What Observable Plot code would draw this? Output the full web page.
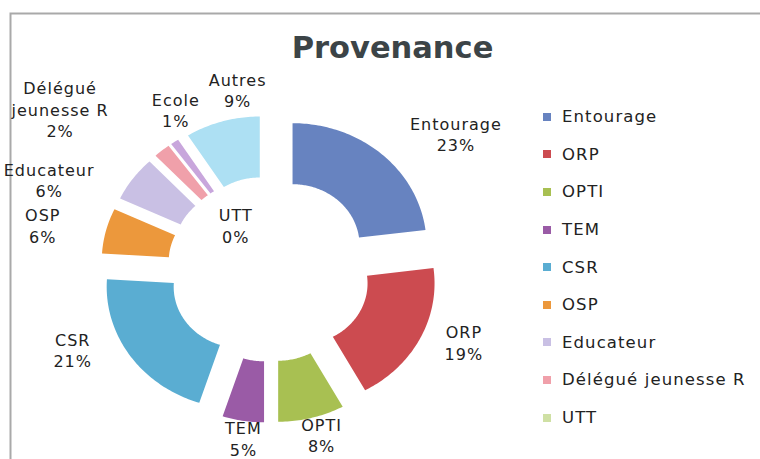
<!DOCTYPE html>
<html>
<head>
<meta charset="utf-8">
<script src="https://cdn.jsdelivr.net/npm/d3@7"></script>
<script src="https://cdn.jsdelivr.net/npm/@observablehq/plot@0.6"></script>
<style>
  html, body { margin: 0; padding: 0; background: #fff; }
  #wrap { position: relative; width: 760px; height: 459px; overflow: hidden; }
  #legend { position: absolute; left: 543px; top: 98px; width: 217px; }
  .lg-swatch { height: 37.6px; padding-bottom: 0 !important; }
  .lg-swatch svg { margin-right: 11px !important; }
  .lg-swatch-label { overflow: visible !important; letter-spacing: 1.1px; }
  g[font-size="16"] text { letter-spacing: 1px; }
</style>
</head>
<body>
<div id="wrap"><div id="chart"></div><div id="legend"></div></div>
<script>
// ---- data ----
const categories = ["Entourage", "ORP", "OPTI", "TEM", "CSR", "OSP", "Educateur", "Délégué jeunesse R", "UTT", "Ecole", "Autres"];
const values = [23, 19, 8, 5, 21, 6, 6, 2, 0, 1, 9];
const labelNames = ["Entourage", "ORP", "OPTI", "TEM", "CSR", "OSP", "Educateur", "Délégué\njeunesse R", "UTT", "Ecole", "Autres"];
const legendCategories = ["Entourage", "ORP", "OPTI", "TEM", "CSR", "OSP", "Educateur", "Délégué jeunesse R", "UTT"];
const titleText = "Provenance";

// ---- styles / layout ----
const colors = ["#6783c0", "#cc4b50", "#a8c052", "#9a5ba6", "#5aadd2", "#ec983c", "#c9c0e4", "#f0a0aa", "#cfe0a4", "#c8a6dc", "#ade0f3"];
const fontLabel = "'Comic Sans MS', 'DejaVu Sans', sans-serif";
const W = 760, H = 459;
const cxPx = 269, cyPx = 268.5, rxPx = 134, ryPx = 122; // donut centre and outer radii (px)
const innerR = 0.5, explode = 0.26;
// label placement (manually dragged labels in the original): angular nudge from slice bisector (deg), radial distance
const labelNudge = [10, -4.5, -1.6, -1, 10, -2.4, -12, -10.4, 1, 6, 7];
const labelDist = [1.78, 1.57, 1.41, 1.40, 1.61, 1.73, 1.80, 2.04, 0.44, 1.48, 1.49];

// ---- geometry from data ----
const total = d3.sum(values);
const rad = Math.PI / 180;
let acc = 0;
const slices = categories.map((name, i) => {
  const a0 = acc / total * 360;
  acc += values[i];
  const a1 = acc / total * 360;
  return {name, value: values[i], a0, a1, mid: (a0 + a1) / 2, i};
});

const points = [];
for (const s of slices) {
  if (s.value <= 0) continue;
  const ox = Math.sin(s.mid * rad) * explode, oy = Math.cos(s.mid * rad) * explode;
  const n = Math.max(2, Math.ceil(s.a1 - s.a0));
  for (let k = 0; k <= n; k++) {
    const a = (s.a0 + (s.a1 - s.a0) * k / n) * rad;
    points.push({name: s.name, x: Math.sin(a) + ox, y: Math.cos(a) + oy});
  }
  for (let k = n; k >= 0; k--) {
    const a = (s.a0 + (s.a1 - s.a0) * k / n) * rad;
    points.push({name: s.name, x: Math.sin(a) * innerR + ox, y: Math.cos(a) * innerR + oy});
  }
}

const labels = slices.map(s => {
  const a = (s.mid + labelNudge[s.i]) * rad;
  const d = labelDist[s.i];
  return {x: Math.sin(a) * d, y: Math.cos(a) * d, text: `${labelNames[s.i]}\n${s.value}%`};
});

const chart = Plot.plot({
  width: W,
  height: H,
  margin: 0,
  style: {background: "transparent", overflow: "visible"},
  x: {domain: [(0 - cxPx) / rxPx, (W - cxPx) / rxPx], range: [0, W], axis: null},
  y: {domain: [(cyPx - H) / ryPx, cyPx / ryPx], range: [H, 0], axis: null},
  color: {domain: categories, range: colors},
  marks: [
    Plot.frame({stroke: "#a9a9a9", strokeWidth: 2, insetLeft: 10, insetTop: 13, insetRight: -20, insetBottom: -20}),
    Plot.line(points, {x: "x", y: "y", z: "name", fill: "name", stroke: "none", curve: "linear-closed"}),
    Plot.text(labels, {x: "x", y: "y", text: "text", fontSize: 16, lineHeight: 1.34, fill: "#222", fontFamily: fontLabel}),
    Plot.text([titleText], {text: d => d, frameAnchor: "top", lineAnchor: "middle", dx: 12, dy: 48, fontSize: 30.5, fontWeight: "bold", fontFamily: "'DejaVu Sans', sans-serif", fill: "#3c4447"})
  ]
});
document.getElementById("chart").appendChild(chart);

const legend = Plot.legend({
  color: {domain: legendCategories, range: colors.slice(0, legendCategories.length)},
  legend: "swatches",
  columns: 1,
  swatchSize: 8,
  className: "lg",
  style: {fontFamily: fontLabel, fontSize: "16.5px", color: "#222", background: "transparent"}
});
document.getElementById("legend").appendChild(legend);
</script>
</body>
</html>
